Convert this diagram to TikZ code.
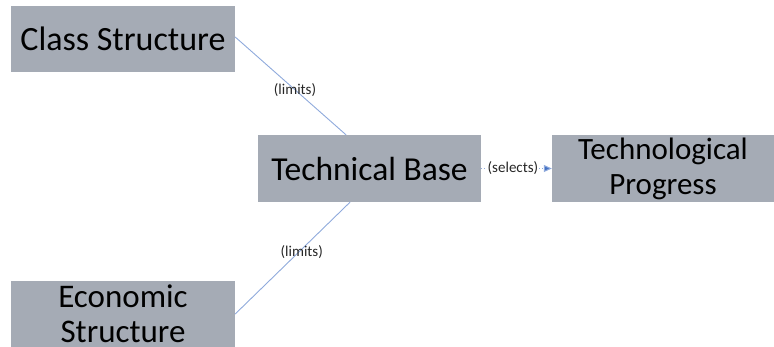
\documentclass[tikz,border=0pt]{standalone}
\usepackage{fontspec}
\setmainfont{Carlito}
\usetikzlibrary{calc,arrows.meta}
\definecolor{boxgray}{HTML}{A5ABB5}
\definecolor{linkblue}{HTML}{8FAADC}
\definecolor{tipblue}{HTML}{4472C4}
\tikzset{
  block/.style={fill=boxgray, draw=none, inner sep=0pt, align=center,
    font=\fontsize{34}{35}\selectfont},
  link/.style={draw=linkblue, line width=0.9pt},
  tag/.style={font=\fontsize{15}{17}\selectfont, text=black!85, inner sep=1pt}
}
\begin{document}
\begin{tikzpicture}[x=1pt,y=-1pt]
  \useasboundingbox (0,0) rectangle (774,347);
  % boxes
  \node[block, minimum width=224pt, minimum height=66pt] (cs) at (123,39) {Class Structure};
  \node[block, minimum width=223pt, minimum height=67pt, font=\fontsize{33.5}{35}\selectfont] (tb) at (369.5,168.5) {Technical Base};
  \node[block, minimum width=222pt, minimum height=67pt, font=\fontsize{31}{35}\selectfont] (tp) at (663,168.5) {Technological\\Progress};
  \node[block, minimum width=224pt, minimum height=66pt, font=\fontsize{33}{35}\selectfont] (es) at (123,314) {Economic\\Structure};
  % connectors
  \coordinate (tbtop) at ($(tb.north)+(-23.5,0)$);
  \coordinate (tbbot) at ($(tb.south)+(-19.5,0)$);
  \draw[link] ($(cs.east)+(0,-2)$) -- node[tag, pos=0.54] {(limits)} (tbtop);
  \draw[link] (es.east) -- node[tag, pos=0.58, yshift=-3pt] {(limits)} (tbbot);
  \draw[link, dotted, line width=1pt, -{Triangle[length=8pt,width=7pt,fill=tipblue]}]
    (tb.east) -- node[tag, pos=0.45, fill=white, inner sep=1pt] {(selects)} (tp.west);
\end{tikzpicture}
\end{document}
